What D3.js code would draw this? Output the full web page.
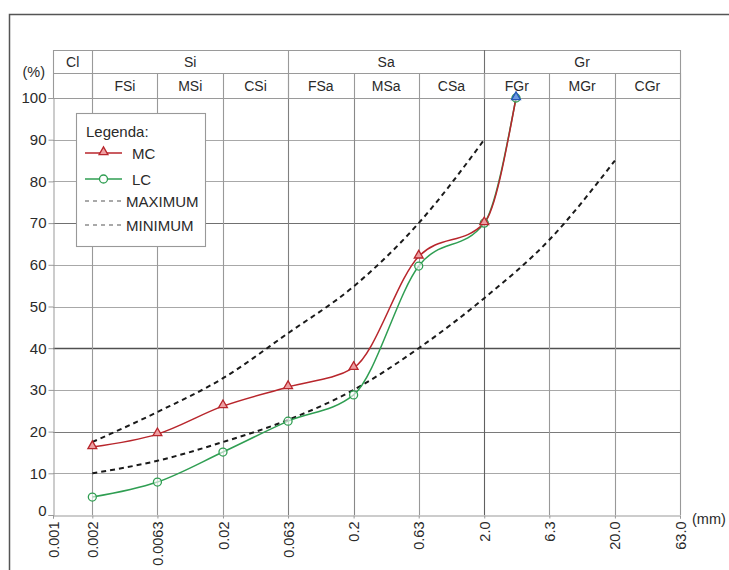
<!DOCTYPE html>
<html>
<head>
<meta charset="utf-8">
<script src="https://cdn.jsdelivr.net/npm/d3@7/dist/d3.min.js"></script>
<style>
  html, body { margin: 0; padding: 0; background: #fff; }
  svg { display: block; font-family: "Liberation Sans", Arial, sans-serif; }
</style>
</head>
<body>
<svg id="chart" width="729" height="570"></svg>
<script>
// Particle size classes (mm) and their labels
const xTicks = [0.001, 0.002, 0.0063, 0.02, 0.063, 0.2, 0.63, 2.0, 6.3, 20.0, 63.0];
const xTickLabels = ["0.001", "0.002", "0.0063", "0.02", "0.063", "0.2", "0.63", "2.0", "6.3", "20.0", "63.0"];
const yTicks = [0, 10, 20, 30, 40, 50, 60, 70, 80, 90, 100];

// Soil fraction header: main groups and subdivisions
const groupLabels = ["Cl", "Si", "Sa", "Gr"];
const groupBounds = [0.001, 0.002, 0.063, 2.0, 63.0];
const subLabels = ["FSi", "MSi", "CSi", "FSa", "MSa", "CSa", "FGr", "MGr", "CGr"];
const subBounds = [0.002, 0.0063, 0.02, 0.063, 0.2, 0.63, 2.0, 6.3, 20.0, 63.0];

// Grading curves: percent passing vs. sieve size
const sampleSizes = [0.002, 0.0063, 0.02, 0.063, 0.2, 0.63, 2.0, 3.5];
const mcValues = [16.3, 19.4, 26.1, 30.7, 35.3, 62, 70, 100];
const lcValues = [4.3, 7.9, 15.1, 22.5, 28.8, 59.7, 70, 100];

// Envelope limits
const maxSizes = [0.002, 0.0063, 0.02, 0.063, 0.2, 0.63, 2.0];
const maxValues = [17.5, 24.7, 32.8, 43.6, 54.8, 70, 90];
const minSizes = [0.002, 0.0063, 0.02, 0.063, 0.2, 0.63, 2.0, 6.3, 20.0];
const minValues = [10, 13, 17.5, 22.8, 30, 40, 52, 66, 85];

const legendLabels = ["MC", "LC", "MAXIMUM", "MINIMUM"];

(function () {
const svg = d3.select("#chart");
const plotLeft = 53, plotRight = 680, plotTop = 98, plotBottom = 515;
const headTop = 50, headMid = 73;

const x = d3.scaleLog().domain([0.001, 63]).range([plotLeft, plotRight]);
const y = d3.scaleLinear().domain([0, 100]).range([plotBottom, plotTop]);

const textColor = "#2a2a2a";
const gridColor = "#a8a8a8";
const fontFamily = "Liberation Sans, Arial, sans-serif";

// Outer frame
svg.append("path")
  .attr("d", `M9.5,570 L9.5,14.5 L729,14.5`)
  .attr("fill", "none").attr("stroke", "#555").attr("stroke-width", 1.5);

// Horizontal gridlines
const darkY = { 40: "#505050", 70: "#707070", 20: "#7a7a7a" };
svg.append("g").selectAll("line").data(yTicks.filter(d => d > 0)).join("line")
  .attr("x1", plotLeft).attr("x2", plotRight)
  .attr("y1", d => Math.round(y(d)) + 0.5).attr("y2", d => Math.round(y(d)) + 0.5)
  .attr("stroke", d => darkY[d] || gridColor).attr("stroke-width", d => d === 40 ? 1.6 : 1.1);

// Vertical gridlines
const darkX = { 2.0: "#606060", 0.063: "#808080", 0.2: "#888" };
svg.append("g").selectAll("line").data(xTicks.slice(1)).join("line")
  .attr("x1", d => Math.round(x(d)) + 0.5).attr("x2", d => Math.round(x(d)) + 0.5)
  .attr("y1", plotTop).attr("y2", plotBottom)
  .attr("stroke", d => darkX[d] || "#999").attr("stroke-width", 1.1);

// Header table
const head = svg.append("g").attr("stroke", "#9a9a9a").attr("stroke-width", 1.1);
[headTop, headMid, plotTop].forEach(v => {
  head.append("line").attr("x1", plotLeft).attr("x2", plotRight).attr("y1", v + 0.5).attr("y2", v + 0.5);
});
head.selectAll(".gb").data(groupBounds).join("line")
  .attr("x1", d => Math.round(x(d)) + 0.5).attr("x2", d => Math.round(x(d)) + 0.5)
  .attr("y1", headTop).attr("y2", plotTop)
  .attr("stroke", d => d === 2.0 ? "#707070" : "#9a9a9a");
head.selectAll(".sb").data(subBounds).join("line")
  .attr("x1", d => Math.round(x(d)) + 0.5).attr("x2", d => Math.round(x(d)) + 0.5)
  .attr("y1", headMid).attr("y2", plotTop);

svg.append("g").selectAll("text").data(groupLabels).join("text")
  .attr("x", (d, i) => (x(groupBounds[i]) + x(groupBounds[i + 1])) / 2)
  .attr("y", (headTop + headMid) / 2 + 5)
  .attr("text-anchor", "middle").attr("font-size", 14).attr("fill", textColor)
  .text(d => d);
svg.append("g").selectAll("text").data(subLabels).join("text")
  .attr("x", (d, i) => (x(subBounds[i]) + x(subBounds[i + 1])) / 2)
  .attr("y", (headMid + plotTop) / 2 + 5)
  .attr("text-anchor", "middle").attr("font-size", 14).attr("fill", textColor)
  .text(d => d);

// Y axis
const yAxis = svg.append("g").attr("transform", `translate(${plotLeft + 0.5},0)`)
  .call(d3.axisLeft(y).tickValues(yTicks).tickSize(5).tickPadding(2));
yAxis.select(".domain").attr("stroke", "#999");
yAxis.selectAll(".tick line").attr("stroke", "#999");
yAxis.selectAll(".tick text").attr("font-size", 15).attr("fill", textColor)
  .attr("font-family", fontFamily);
yAxis.selectAll(".tick").filter(d => d === 0).select("text").attr("dy", "0.05em");

svg.append("text").attr("x", 45).attr("y", 77).attr("text-anchor", "end")
  .attr("font-size", 14.5).attr("fill", textColor).text("(%)");

// X axis
const xAxis = svg.append("g").attr("transform", `translate(0,${plotBottom + 0.5})`)
  .call(d3.axisBottom(x).tickValues(xTicks).tickFormat((d, i) => xTickLabels[i]).tickSize(3));
xAxis.select(".domain").attr("stroke", "#999");
xAxis.selectAll(".tick line").attr("stroke", "#999");
xAxis.selectAll(".tick text")
  .attr("font-size", 14.5).attr("fill", textColor)
  .attr("font-family", fontFamily)
  .attr("transform", "rotate(-90)")
  .attr("text-anchor", "end")
  .attr("x", -6).attr("y", 0).attr("dy", "0.35em");

svg.append("text").attr("x", 692).attr("y", 524)
  .attr("font-size", 14.5).attr("fill", textColor).text("(mm)");

// Curves
const line = d3.line().x(d => x(d[0])).y(d => y(d[1])).curve(d3.curveMonotoneX);
const zip = (a, b) => a.map((v, i) => [v, b[i]]);

const series = [
  { pts: zip(maxSizes, maxValues), color: "#1a1a1a", dash: "5,4", width: 2 },
  { pts: zip(minSizes, minValues), color: "#1a1a1a", dash: "5,4", width: 2 },
  { pts: zip(sampleSizes, lcValues), color: "#2f9e52", dash: null, width: 1.5 },
  { pts: zip(sampleSizes, mcValues), color: "#b8262c", dash: null, width: 1.5 }
];
svg.append("g").selectAll("path").data(series).join("path")
  .attr("d", d => line(d.pts))
  .attr("fill", "none")
  .attr("stroke", d => d.color)
  .attr("stroke-width", d => d.width)
  .attr("stroke-dasharray", d => d.dash);

// Markers
const tri = d3.symbol().type(d3.symbolTriangle).size(34);
svg.append("g").selectAll("circle").data(zip(sampleSizes, lcValues)).join("circle")
  .attr("cx", d => x(d[0])).attr("cy", d => y(d[1])).attr("r", 4)
  .attr("fill", "#fff").attr("fill-opacity", 0.6)
  .attr("stroke", "#2f9e52").attr("stroke-width", 1.3);
const lastIdx = sampleSizes.length - 1;
svg.append("g").selectAll("path").data(zip(sampleSizes, mcValues)).join("path")
  .attr("d", tri)
  .attr("transform", d => `translate(${x(d[0])},${y(d[1]) - 1})`)
  .attr("fill", (d, i) => i === lastIdx ? "#6d9be0" : "#ee9fa2")
  .attr("stroke", (d, i) => i === lastIdx ? "#2357b8" : "#b8262c")
  .attr("stroke-width", 1.3);

// Legend
const lg = svg.append("g");
lg.append("rect").attr("x", 76.5).attr("y", 113.5).attr("width", 129).attr("height", 133)
  .attr("fill", "#fff").attr("stroke", "#999").attr("stroke-width", 1.1);
lg.append("text").attr("x", 86).attr("y", 137).attr("font-size", 15).attr("fill", textColor)
  .text("Legenda:");
const legY = [153, 179, 201, 225];
const legStyle = [
  { color: "#b8262c", dash: null, marker: "tri", tx: 132 },
  { color: "#2f9e52", dash: null, marker: "circle", tx: 132 },
  { color: "#555", dash: "4,4", marker: null, tx: 126 },
  { color: "#555", dash: "4,4", marker: null, tx: 126 }
];
legendLabels.forEach((lab, i) => {
  const s = legStyle[i];
  lg.append("line").attr("x1", 85).attr("x2", s.marker ? 122 : 121)
    .attr("y1", legY[i]).attr("y2", legY[i])
    .attr("stroke", s.color).attr("stroke-width", s.marker ? 1.5 : 1.2)
    .attr("stroke-dasharray", s.dash);
  if (s.marker === "tri") {
    lg.append("path").attr("d", tri).attr("transform", `translate(103.5,${legY[i] - 1})`)
      .attr("fill", "#ee9fa2").attr("stroke", "#b8262c").attr("stroke-width", 1.3);
  } else if (s.marker === "circle") {
    lg.append("circle").attr("cx", 103.5).attr("cy", legY[i]).attr("r", 4)
      .attr("fill", "#fff").attr("stroke", "#2f9e52").attr("stroke-width", 1.3);
  }
  lg.append("text").attr("x", s.tx).attr("y", legY[i] + 5.5).attr("font-size", 15)
    .attr("fill", textColor).text(lab);
});
})();
</script>
</body>
</html>
